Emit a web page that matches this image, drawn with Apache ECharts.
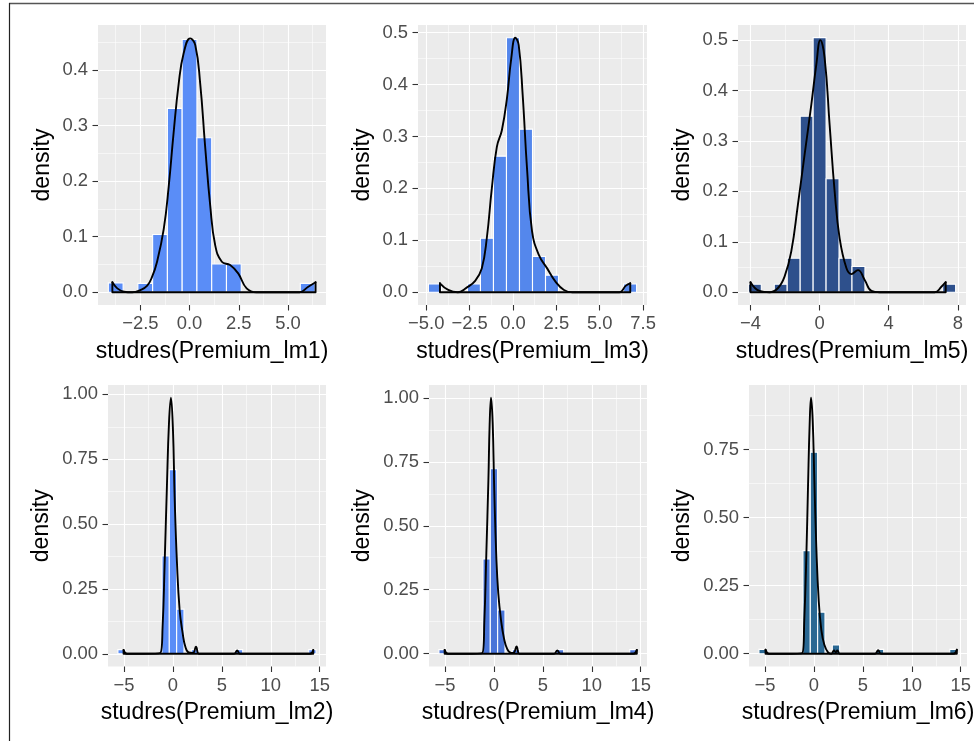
<!DOCTYPE html>
<html lang="en">
<head>
<meta charset="UTF-8">
<title>studres density histograms</title>
<script src="https://cdn.jsdelivr.net/npm/echarts@6/dist/echarts.min.js"></script>
<style>
  html, body { margin: 0; padding: 0; background: #fff; }
  #chart { width: 974px; height: 741px; }
</style>
</head>
<body>
<div id="chart"></div>
<script>
// histogram bin width shared by all six panels
const binWidth = 0.75;

// studres(Premium_lm1)
const lm1Bins = [-3.75, -2.25, -1.5, -0.75, 0, 0.75, 1.5, 2.25, 6.0];
const lm1Dens = [0.017, 0.016, 0.104, 0.331, 0.455, 0.278, 0.051, 0.051, 0.016];
const lm1CurveX = [-3.92, -3.67, -3.33, -2.91, -2.5, -2.15, -1.9, -1.65, -1.31, -1.06, -0.81, -0.55, -0.3, 0.03, 0.29, 0.54, 0.79, 1.05, 1.3, 1.64, 2.06, 2.47, 2.9, 3.4, 4.5, 5.59, 6.01, 6.4];
const lm1CurveY = [0.018, 0.007, 0.001, 0, 0.004, 0.012, 0.028, 0.055, 0.114, 0.19, 0.287, 0.376, 0.43, 0.457, 0.445, 0.376, 0.263, 0.156, 0.085, 0.055, 0.049, 0.034, 0.007, 0, 0, 0, 0.0095, 0.018];

// studres(Premium_lm3)
const lm3Bins = [-4.5, -2.25, -1.5, -0.75, 0, 0.75, 1.5, 2.25, 6.75];
const lm3Dens = [0.016, 0.016, 0.104, 0.262, 0.49, 0.314, 0.069, 0.033, 0.016];
const lm3CurveX = [-4.21, -3.73, -3.19, -2.67, -2.18, -1.8, -1.51, -1.22, -0.93, -0.64, -0.35, -0.1, 0.135, 0.33, 0.56, 0.81, 1.1, 1.49, 1.97, 2.45, 2.94, 3.42, 5.0, 6.13, 6.51, 6.76];
const lm3CurveY = [0.0173, 0.0045, 0, 0.009, 0.022, 0.046, 0.104, 0.2, 0.28, 0.312, 0.373, 0.45, 0.49, 0.476, 0.379, 0.238, 0.117, 0.072, 0.046, 0.0205, 0.0045, 0, 0, 0, 0.0128, 0.0173];

// studres(Premium_lm5)
const lm5Bins = [-3.75, -2.25, -1.5, -0.75, 0, 0.75, 1.5, 2.25, 7.5];
const lm5Dens = [0.016, 0.016, 0.0675, 0.349, 0.505, 0.225, 0.0675, 0.051, 0.016];
const lm5CurveX = [-4.0, -3.48, -2.9, -2.42, -2.03, -1.64, -1.26, -0.87, -0.48, -0.19, 0.04, 0.29, 0.58, 0.87, 1.16, 1.55, 1.84, 2.22, 2.61, 3.0, 3.48, 5.0, 6.67, 7.05, 7.3];
const lm5CurveY = [0.0199, 0.0026, 0, 0.008, 0.031, 0.081, 0.173, 0.273, 0.372, 0.452, 0.5, 0.465, 0.332, 0.2, 0.107, 0.048, 0.036, 0.044, 0.0245, 0.0026, 0, 0, 0, 0.011, 0.0199];

// studres(Premium_lm2)
const lm2Bins = [-5.25, -0.75, 0, 0.75, 2.25, 6.75, 14.25];
const lm2Dens = [0.016, 0.377, 0.71, 0.172, 0.016, 0.016, 0.016];
const lm2CurveX = [-5.05, -4.7, -3, -1.3, -1.06, -0.86, -0.62, -0.41, -0.21, 0.0, 0.17, 0.41, 0.68, 0.99, 1.26, 1.6, 2.05, 2.35, 2.65, 3.2, 6.25, 6.56, 6.85, 10, 14.0, 14.34];
const lm2CurveY = [0.015, 0, 0, 0.003, 0.105, 0.336, 0.644, 0.887, 0.987, 0.862, 0.605, 0.349, 0.169, 0.08, 0.028, 0.005, 0.003, 0.027, 0, 0, 0, 0.013, 0, 0, 0, 0.015];

// studres(Premium_lm4)
const lm4Bins = [-5.25, -0.75, 0, 0.75, 2.25, 6.75, 14.25];
const lm4Dens = [0.016, 0.37, 0.723, 0.171, 0.016, 0.016, 0.016];
const lm4CurveX = [-5.04, -4.7, -3, -1.19, -0.98, -0.78, -0.57, -0.44, -0.3, -0.13, 0.03, 0.24, 0.44, 0.72, 1.02, 1.36, 1.77, 2.05, 2.31, 2.6, 3.2, 6.15, 6.47, 6.8, 10, 14.25, 14.6];
const lm4CurveY = [0.015, 0, 0, 0.003, 0.132, 0.392, 0.678, 0.899, 1.0, 0.899, 0.639, 0.379, 0.236, 0.132, 0.061, 0.018, 0.003, 0.005, 0.028, 0, 0, 0, 0.013, 0, 0, 0, 0.015];

// studres(Premium_lm6)
const lm6Bins = [-5.25, -0.75, 0, 0.75, 2.25, 6.75, 14.25];
const lm6Dens = [0.016, 0.379, 0.741, 0.153, 0.032, 0.016, 0.016];
const lm6CurveX = [-4.95, -4.6, -3, -1.19, -0.99, -0.78, -0.61, -0.44, -0.3, -0.13, 0.04, 0.24, 0.48, 0.75, 1.06, 1.44, 1.78, 2.05, 2.22, 2.39, 2.63, 3.2, 6.25, 6.56, 6.85, 10, 14.25, 14.6];
const lm6CurveY = [0.015, 0, 0, 0.003, 0.125, 0.357, 0.613, 0.845, 0.941, 0.857, 0.638, 0.393, 0.198, 0.088, 0.033, 0.005, 0, 0.012, 0.005, 0.012, 0, 0, 0, 0.013, 0, 0, 0, 0.015];

// axis breaks and tick labels
const xTicksA = [-2.5, 0, 2.5, 5];
const xLabelsA = ['\u22122.5', '0.0', '2.5', '5.0'];
const xMinorA = [-3.75, -1.25, 1.25, 3.75, 6.25];
const xTicksB = [-5, -2.5, 0, 2.5, 5, 7.5];
const xLabelsB = ['\u22125.0', '\u22122.5', '0.0', '2.5', '5.0', '7.5'];
const xMinorB = [-3.75, -1.25, 1.25, 3.75, 6.25];
const xTicksC = [-4, 0, 4, 8];
const xLabelsC = ['\u22124', '0', '4', '8'];
const xMinorC = [-2, 2, 6];
const xTicksD = [-5, 0, 5, 10, 15];
const xLabelsD = ['\u22125', '0', '5', '10', '15'];
const xMinorD = [-2.5, 2.5, 7.5, 12.5];

const yTicksA = [0, 0.1, 0.2, 0.3, 0.4];
const yLabelsA = ['0.0', '0.1', '0.2', '0.3', '0.4'];
const yTicksB = [0, 0.1, 0.2, 0.3, 0.4, 0.5];
const yLabelsB = ['0.0', '0.1', '0.2', '0.3', '0.4', '0.5'];
const yMinorAB = [0.05, 0.15, 0.25, 0.35, 0.45];
const yTicksD = [0, 0.25, 0.5, 0.75, 1.0];
const yLabelsD = ['0.00', '0.25', '0.50', '0.75', '1.00'];
const yTicksE = [0, 0.25, 0.5, 0.75];
const yLabelsE = ['0.00', '0.25', '0.50', '0.75'];
const yMinorDE = [0.125, 0.375, 0.625, 0.875];

const font = 'Liberation Sans, Arial, Helvetica, sans-serif';

const panels = [
  { title: 'studres(Premium_lm1)', bins: lm1Bins, dens: lm1Dens, cx: lm1CurveX, cy: lm1CurveY, color: '#5A8DF7',
    x: [-4.65, 6.93], y: [-0.0229, 0.481], xt: xTicksA, xl: xLabelsA, xm: xMinorA, yt: yTicksA, yl: yLabelsA, ym: yMinorAB,
    box: [98, 25, 228, 280], yGap: 44 },
  { title: 'studres(Premium_lm3)', bins: lm3Bins, dens: lm3Dens, cx: lm3CurveX, cy: lm3CurveY, color: '#5487EC',
    x: [-5.475, 7.725], y: [-0.0245, 0.5145], xt: xTicksB, xl: xLabelsB, xm: xMinorB, yt: yTicksB, yl: yLabelsB, ym: yMinorAB,
    box: [418, 25, 229, 280], yGap: 44 },
  { title: 'studres(Premium_lm5)', bins: lm5Bins, dens: lm5Dens, cx: lm5CurveX, cy: lm5CurveY, color: '#2E508C',
    x: [-4.725, 8.475], y: [-0.02525, 0.53], xt: xTicksC, xl: xLabelsC, xm: xMinorC, yt: yTicksB, yl: yLabelsB, ym: yMinorAB,
    box: [738, 25, 228, 280], yGap: 44 },
  { title: 'studres(Premium_lm2)', bins: lm2Bins, dens: lm2Dens, cx: lm2CurveX, cy: lm2CurveY, color: '#5A8DF7',
    x: [-6.64, 15.64], y: [-0.049, 1.036], xt: xTicksD, xl: xLabelsD, xm: xMinorD, yt: yTicksD, yl: yLabelsD, ym: yMinorDE,
    box: [108, 385, 218, 281.5], yGap: 55 },
  { title: 'studres(Premium_lm4)', bins: lm4Bins, dens: lm4Dens, cx: lm4CurveX, cy: lm4CurveY, color: '#4874D8',
    x: [-6.64, 15.64], y: [-0.05, 1.05], xt: xTicksD, xl: xLabelsD, xm: xMinorD, yt: yTicksD, yl: yLabelsD, ym: yMinorDE,
    box: [429, 385, 218, 281.5], yGap: 55 },
  { title: 'studres(Premium_lm6)', bins: lm6Bins, dens: lm6Dens, cx: lm6CurveX, cy: lm6CurveY, color: '#2A6893',
    x: [-6.64, 15.64], y: [-0.047, 0.988], xt: xTicksD, xl: xLabelsD, xm: xMinorD, yt: yTicksE, yl: yLabelsE, ym: yMinorDE,
    box: [749, 385, 218, 281.5], yGap: 55 }
];

const chart = echarts.init(document.getElementById('chart'), null, { renderer: 'canvas' });

const grids = [], xAxes = [], yAxes = [], series = [];
const tickStyle = { show: true, length: 5.5, lineStyle: { color: '#333333', width: 1.1 } };
const labelStyle = { color: '#4D4D4D', fontSize: 18.4, fontFamily: font, margin: 10 };
const nameStyle = { color: '#000', fontSize: 23, fontFamily: font };
const curveStyle = { color: '#000', width: 1.9, join: 'round', cap: 'round' };
// ggplot axes sit on the panel edge, not on zero
const noLine = { show: false, onZero: false };

panels.forEach(function (p, i) {
  grids.push({
    left: p.box[0], top: p.box[1], width: p.box[2], height: p.box[3],
    show: true, backgroundColor: '#EBEBEB', borderWidth: 0,
    containLabel: false, outerBoundsMode: 'none'
  });
  xAxes.push({
    type: 'value', gridIndex: i, min: p.x[0], max: p.x[1], position: 'bottom',
    name: p.title, nameLocation: 'middle', nameGap: 35, nameTextStyle: nameStyle, nameMoveOverlap: false,
    axisLine: noLine,
    axisTick: Object.assign({ customValues: p.xt }, tickStyle),
    axisLabel: Object.assign({ customValues: p.xt, formatter: function (v) { return p.xl[p.xt.indexOf(v)]; } }, labelStyle),
    splitLine: { show: true, lineStyle: { color: '#FFFFFF', width: 1.1 } }
  });
  yAxes.push({
    type: 'value', gridIndex: i, min: p.y[0], max: p.y[1], position: 'left',
    name: 'density', nameLocation: 'middle', nameGap: p.yGap, nameTextStyle: nameStyle, nameMoveOverlap: false,
    axisLine: noLine,
    axisTick: Object.assign({ customValues: p.yt }, tickStyle),
    axisLabel: Object.assign({ customValues: p.yt, formatter: function (v) { return p.yl[p.yt.indexOf(v)]; } }, labelStyle),
    splitLine: { show: true, lineStyle: { color: '#FFFFFF', width: 1.1 } }
  });

  // histogram bars
  series.push({
    type: 'custom', xAxisIndex: i, yAxisIndex: i, z: 2,
    data: p.bins.map(function (c, j) { return [c, p.dens[j]]; }),
    encode: { x: 0, y: 1 },
    renderItem: function (params, api) {
      const c = api.value(0), d = api.value(1);
      const a = api.coord([c - binWidth / 2, d]);
      const b = api.coord([c + binWidth / 2, 0]);
      return {
        type: 'rect',
        shape: { x: a[0], y: a[1], width: b[0] - a[0], height: b[1] - a[1] },
        style: { fill: p.color, stroke: '#FFFFFF', lineWidth: 1.1 }
      };
    }
  });
  // density curve
  series.push({
    type: 'line', xAxisIndex: i, yAxisIndex: i, z: 3,
    data: p.cx.map(function (x, j) { return [x, p.cy[j]]; }),
    smooth: 0.45, showSymbol: false, symbol: 'none', clip: false,
    lineStyle: curveStyle
  });
  // closing outline of the density polygon
  const last = p.cx.length - 1;
  series.push({
    type: 'line', xAxisIndex: i, yAxisIndex: i, z: 3,
    data: [[p.cx[0], p.cy[0]], [p.cx[0], 0], [p.cx[last], 0], [p.cx[last], p.cy[last]]],
    showSymbol: false, symbol: 'none',
    lineStyle: curveStyle
  });
});

// minor grid lines on extra axes
panels.forEach(function (p, i) {
  xAxes.push({
    type: 'value', gridIndex: i, min: p.x[0], max: p.x[1],
    axisLine: noLine, axisTick: { show: false, customValues: p.xm },
    axisLabel: { show: false, customValues: p.xm },
    splitLine: { show: true, lineStyle: { color: '#FFFFFF', width: 0.55 } }
  });
  yAxes.push({
    type: 'value', gridIndex: i, min: p.y[0], max: p.y[1],
    axisLine: noLine, axisTick: { show: false, customValues: p.ym },
    axisLabel: { show: false, customValues: p.ym },
    splitLine: { show: true, lineStyle: { color: '#FFFFFF', width: 0.55 } }
  });
});

const option = {
  animation: false,
  backgroundColor: '#FFFFFF',
  grid: grids,
  xAxis: xAxes,
  yAxis: yAxes,
  series: series,
  graphic: [
    { type: 'line', shape: { x1: 9, y1: 3.5, x2: 974, y2: 3.5 }, style: { stroke: '#555555', lineWidth: 1.5 } },
    { type: 'line', shape: { x1: 9.5, y1: 3, x2: 9.5, y2: 741 }, style: { stroke: '#222222', lineWidth: 1.2 } }
  ]
};

chart.setOption(option);
window.addEventListener('resize', chart.resize);
</script>
</body>
</html>
